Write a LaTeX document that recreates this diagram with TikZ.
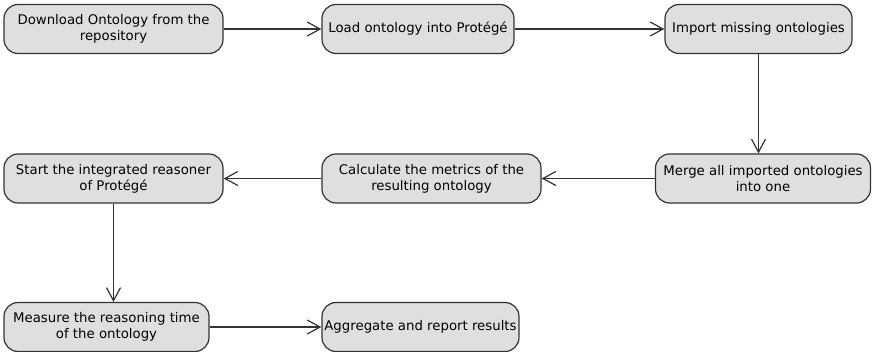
\documentclass[tikz,border=0pt]{standalone}
\usepackage{fontspec}
\setmainfont{DejaVu Sans}
\usetikzlibrary{arrows.meta}
\definecolor{boxfill}{HTML}{DEDFDE}
\definecolor{boxline}{HTML}{333333}

\tikzset{stepbox/.style={draw=boxline,fill=boxfill,rounded corners=14pt,line width=1.2pt,
  minimum height=49pt,inner sep=1pt,align=center,font=\fontsize{13.3}{16}\selectfont}}

\begin{document}
\begin{tikzpicture}[x=1pt,y=-1pt,>={Straight Barb[length=13pt,width=14pt]},line width=1.2pt,draw=boxline]
\useasboundingbox (0,0) rectangle (872,352);
\node[stepbox,minimum width=219pt] (n1) at (113.5,29) {Download Ontology from the\\repository};
\node[stepbox,minimum width=192pt] (n2) at (418,29) {Load ontology into Protégé};
\node[stepbox,minimum width=187pt] (n3) at (758.5,29) {Import missing ontologies};
%
\node[stepbox,minimum width=215pt] (n4) at (763,178.5) {Merge all imported ontologies\\into one};
\node[stepbox,minimum width=219pt] (n5) at (431.5,178.5) {Calculate the metrics of the\\resulting ontology};
\node[stepbox,minimum width=219pt] (n6) at (113.5,178.5) {Start the integrated reasoner\\of Protégé};
%
\node[stepbox,minimum width=205pt] (n7) at (106.5,327) {Measure the reasoning time\\of the ontology};
\node[stepbox,minimum width=197pt] (n8) at (420.5,327) {Aggregate and report results};
\draw[->] (n1) -- (n2); \draw[->] (n2) -- (n3);
\draw[->] (n3.south) -- (n3.south |- n4.north);
\draw[->] (n4) -- (n5); \draw[->] (n5) -- (n6);
\draw[->] (n6.south) -- (n6.south |- n7.north);
\draw[->] (n7) -- (n8);
\end{tikzpicture}
\end{document}
